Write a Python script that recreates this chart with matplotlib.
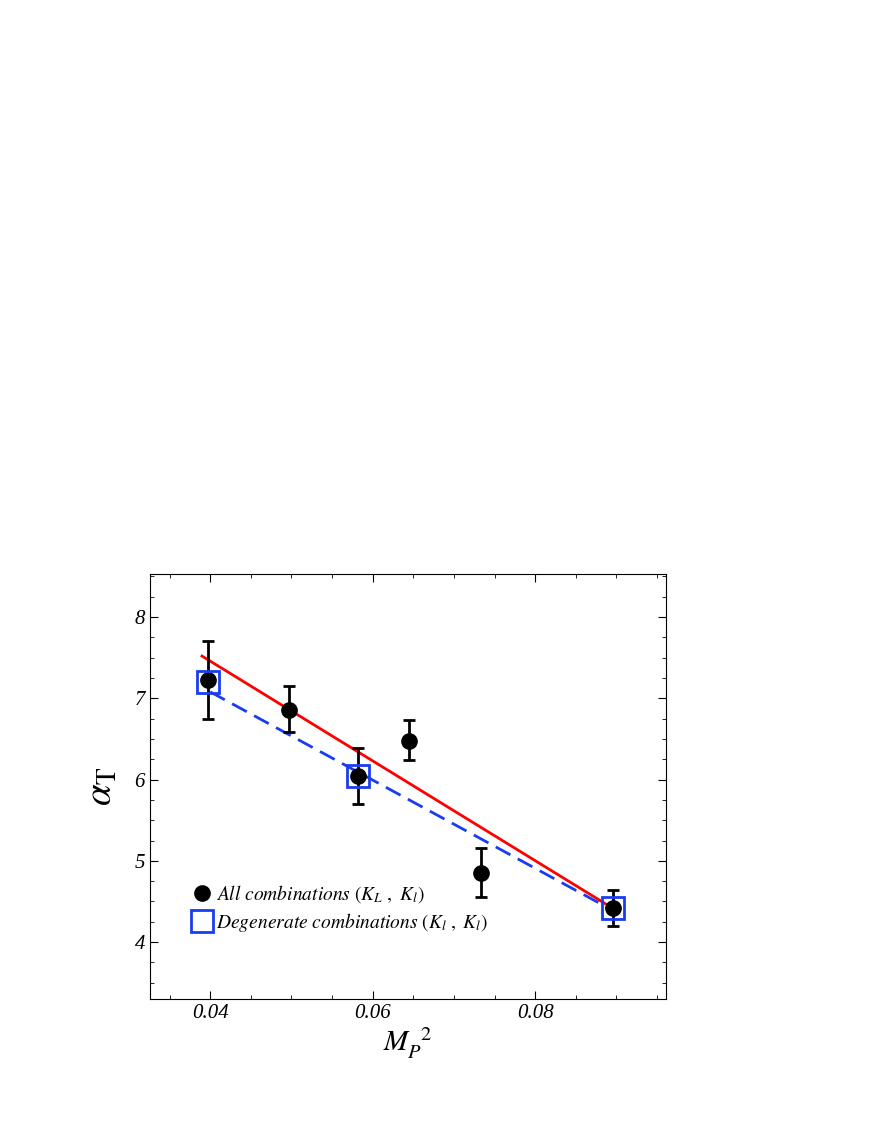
import matplotlib
matplotlib.use("Agg")
import matplotlib.pyplot as plt
from matplotlib.lines import Line2D
from matplotlib.ticker import MultipleLocator

plt.rcParams["font.family"] = "Liberation Serif"
plt.rcParams["mathtext.fontset"] = "stix"

# data
mp2 = [0.0397, 0.0497, 0.0582, 0.0645, 0.0733, 0.0896]
alpha = [7.22, 6.86, 6.04, 6.48, 4.85, 4.42]
err_up = [0.48, 0.29, 0.35, 0.25, 0.31, 0.22]
err_dn = [0.48, 0.28, 0.34, 0.24, 0.30, 0.22]

deg_x = [0.0397, 0.0582, 0.0896]
deg_y = [7.20, 6.04, 4.42]

fit_all_x = [0.0390, 0.0890]
fit_all_y = [7.52, 4.45]
fit_deg_x = [0.0400, 0.0890]
fit_deg_y = [7.08, 4.42]

blue = "#1a3cf0"

fig = plt.figure(figsize=(8.72, 11.28), dpi=100)
ax = fig.add_axes([150 / 872, 1 - 999 / 1128, 516 / 872, 425 / 1128])

ax.plot(fit_all_x, fit_all_y, color="red", lw=2)
ax.plot(fit_deg_x, fit_deg_y, color=blue, lw=2, ls=(0, (6, 3)))
ax.errorbar(mp2, alpha, yerr=[err_dn, err_up], fmt="o", color="black",
            ms=11, elinewidth=2, capsize=4, capthick=2, zorder=3)
ax.plot(deg_x, deg_y, "s", mfc="none", mec=blue, ms=16, mew=2, zorder=4)

ax.set_xlim(0.0326, 0.0961)
ax.set_ylim(3.30, 8.53)
ax.xaxis.set_minor_locator(MultipleLocator(0.005))
ax.yaxis.set_minor_locator(MultipleLocator(0.25))
ax.set_xticks([0.04, 0.06, 0.08])
ax.set_xticklabels(["0.04", "0.06", "0.08"], fontstyle="italic", fontsize=15)
ax.set_yticks([4, 5, 6, 7, 8])
ax.set_yticklabels(["4", "5", "6", "7", "8"], fontstyle="italic", fontsize=15)
ax.tick_params(which="both", direction="in", top=True, right=True)
ax.tick_params(which="major", length=6)
ax.tick_params(which="minor", length=3)

ax.set_xlabel(r"$M_P^{\ \ 2}$", fontsize=21, labelpad=2)
ax.set_ylabel(r"$\alpha_{\rm T}$", fontsize=28, labelpad=10)

handles = [
    Line2D([], [], marker="o", ls="none", color="black", ms=11),
    Line2D([], [], marker="s", ls="none", mfc="none", mec=blue, ms=16, mew=2),
]
labels = [r"$\it{All\ combinations\ (K_L\ ,\ K_l)}$",
          r"$\it{Degenerate\ combinations\ (K_l\ ,\ K_l)}$"]
ax.legend(handles, labels, loc="lower left", bbox_to_anchor=(0.06, 0.13),
          frameon=False, fontsize=14, handletextpad=0.1, borderpad=0,
          labelspacing=0.3, handlelength=1.2)

fig.savefig("out.png", dpi=100)
